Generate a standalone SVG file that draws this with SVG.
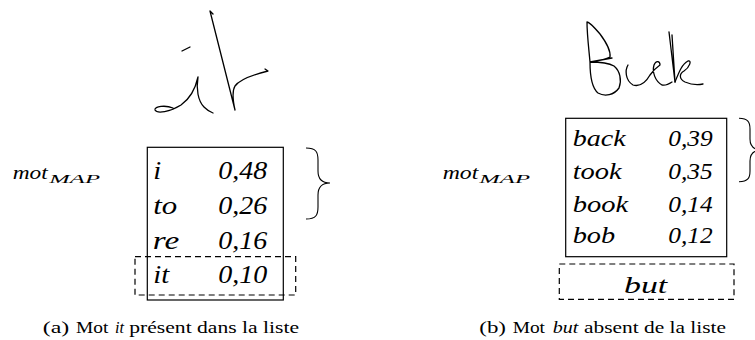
<svg xmlns="http://www.w3.org/2000/svg" width="755" height="340" viewBox="0 0 755 340">
<style>
.bg{fill:#fff}
.box{fill:none;stroke:#000;stroke-width:1.2}
.dash{fill:none;stroke:#000;stroke-width:1.2;stroke-dasharray:6 4}
.ink{fill:none;stroke:#000;stroke-width:1.3;stroke-linecap:round;stroke-linejoin:round}
.brace{fill:none;stroke:#000;stroke-width:1.1}
.it{font-family:"Liberation Serif","Times New Roman",serif;font-style:italic;fill:#000}
.rm{font-family:"Liberation Serif","Times New Roman",serif;fill:#000}
.la{font-size:24.5px}
.lb{font-size:22.5px}
.mot{font-size:19px}
.sub{font-size:12.5px}
.cap{font-size:16px}
</style>
<rect class="bg" x="0" y="0" width="755" height="340"/>

<g id="panel-a">
  <g id="handwriting-a">
    <path class="ink" d="M182,51 L190,47"/>
    <path class="ink" d="M173,108 C166,105 154,106 155,110 C157,114 170,112 181,105 C191,98 196,86 198,77 C196,89 198,101 204,107 C207,110 210,112 213,113"/>
    <path class="ink" d="M213,14 L210,11 L235,110 C233,101 232,91 235,86 C240,79 252,75 268,71 L265,69"/>
  </g>
  <g id="label-a">
    <text class="it mot" x="12.7" y="179.3" textLength="35" lengthAdjust="spacingAndGlyphs">mot</text>
    <text class="it sub" x="49.3" y="183.3" textLength="50.7" lengthAdjust="spacingAndGlyphs">MAP</text>
  </g>
  <g id="list-a">
    <rect class="box" x="147.3" y="147.3" width="136" height="152.7"/>
    <text class="it la" x="153.3" y="179.3" textLength="8" lengthAdjust="spacingAndGlyphs">i</text>
    <text class="it la" x="218.3" y="179.3" textLength="49" lengthAdjust="spacingAndGlyphs">0,48</text>
    <text class="it la" x="153.3" y="214" textLength="24" lengthAdjust="spacingAndGlyphs">to</text>
    <text class="it la" x="218.3" y="214" textLength="49" lengthAdjust="spacingAndGlyphs">0,26</text>
    <text class="it la" x="152.7" y="248.7" textLength="26.5" lengthAdjust="spacingAndGlyphs">re</text>
    <text class="it la" x="218.3" y="248.7" textLength="49" lengthAdjust="spacingAndGlyphs">0,16</text>
    <text class="it la" x="153.3" y="283.3" textLength="16" lengthAdjust="spacingAndGlyphs">it</text>
    <text class="it la" x="218.3" y="283.3" textLength="49" lengthAdjust="spacingAndGlyphs">0,10</text>
  </g>
  <rect id="match-a" class="dash" x="135" y="256.7" width="160.7" height="38.3"/>
  <path id="brace-a" class="brace" d="M306,148 C316,148 318,152 318,160 L318,171 C318,179 322,183 330,183 C322,183 318,187 318,195 L318,207 C318,215 316,219 306,219"/>
  <g id="caption-a">
    <text class="rm cap" x="42.7" y="333.3" textLength="26.6" lengthAdjust="spacingAndGlyphs">(a)</text>
    <text class="rm cap" x="76" y="333.3" textLength="32.3" lengthAdjust="spacingAndGlyphs">Mot</text>
    <text class="it cap" x="115" y="333.3" textLength="9" lengthAdjust="spacingAndGlyphs">it</text>
    <text class="rm cap" x="129.3" y="333.3" textLength="169.7" lengthAdjust="spacingAndGlyphs">présent dans la liste</text>
  </g>
</g>

<g id="panel-b">
  <g id="handwriting-b">
    <path class="ink" d="M590,62 C596,61 604,60 610,57 C611,50 606,42 600,34 C594,27 589,22 587,22 C587,35 589,50 590,62 C590,75 592,88 598,93 C605,97 614,95 619,88 C622,80 620,71 614,66 C607,62 598,62 590,62 L612,58"/>
    <path class="ink" d="M628,65 C625,70 625,80 633,85 C640,87 646,82 650,75 C653,71 657,67 660,65 C660,61 656,60 654,65 C652,72 655,81 662,85 C666,86 669,84 672,82"/>
    <path class="ink" d="M669,32 L675,82 L672,35"/>
    <path class="ink" d="M675,82 C679,72 682,64 688,61 C692,60 690,67 684,71 C679,74 679,79 685,82 C692,85 698,85 703,84"/>
  </g>
  <g id="label-b">
    <text class="it mot" x="442.7" y="179.3" textLength="35.6" lengthAdjust="spacingAndGlyphs">mot</text>
    <text class="it sub" x="479.3" y="183.3" textLength="50.7" lengthAdjust="spacingAndGlyphs">MAP</text>
  </g>
  <g id="list-b">
    <rect class="box" x="565.7" y="118.3" width="161" height="138.4"/>
    <text class="it lb" x="572.7" y="146" textLength="53" lengthAdjust="spacingAndGlyphs">back</text>
    <text class="it lb" x="668.3" y="146" textLength="44.4" lengthAdjust="spacingAndGlyphs">0,39</text>
    <text class="it lb" x="572.7" y="179.3" textLength="49" lengthAdjust="spacingAndGlyphs">took</text>
    <text class="it lb" x="668.3" y="179.3" textLength="44.4" lengthAdjust="spacingAndGlyphs">0,35</text>
    <text class="it lb" x="572.7" y="211.7" textLength="55.5" lengthAdjust="spacingAndGlyphs">book</text>
    <text class="it lb" x="668.3" y="211.7" textLength="44.4" lengthAdjust="spacingAndGlyphs">0,14</text>
    <text class="it lb" x="572.7" y="243.3" textLength="42.5" lengthAdjust="spacingAndGlyphs">bob</text>
    <text class="it lb" x="668.3" y="243.3" textLength="44.4" lengthAdjust="spacingAndGlyphs">0,12</text>
  </g>
  <g id="missing-b">
    <rect class="dash" x="559.3" y="264" width="174.7" height="35.3"/>
    <text class="it lb" x="624" y="292.7" textLength="43.3" lengthAdjust="spacingAndGlyphs">but</text>
  </g>
  <path id="brace-b" class="brace" d="M739,118.3 C748,118.3 750,122 750,129 L750,139 C750,146 754,150 762,150 C754,150 750,154 750,161 L750,171 C750,178 748,181.7 739,181.7"/>
  <g id="caption-b">
    <text class="rm cap" x="479.3" y="333.3" textLength="26.7" lengthAdjust="spacingAndGlyphs">(b)</text>
    <text class="rm cap" x="512.7" y="333.3" textLength="32.3" lengthAdjust="spacingAndGlyphs">Mot</text>
    <text class="it cap" x="552.7" y="333.3" textLength="25.6" lengthAdjust="spacingAndGlyphs">but</text>
    <text class="rm cap" x="584" y="333.3" textLength="142" lengthAdjust="spacingAndGlyphs">absent de la liste</text>
  </g>
</g>
</svg>
